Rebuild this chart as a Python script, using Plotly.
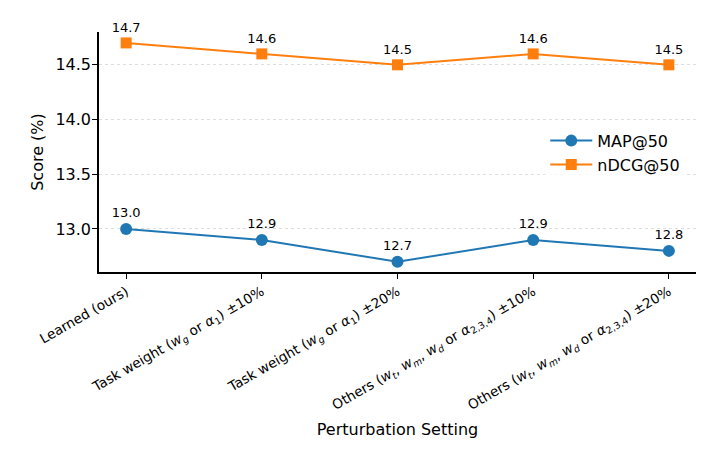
import plotly.graph_objects as go

categories = [
    "Learned (ours)",
    "Task weight (<i>w<sub>g</sub></i> or <i>α</i><sub>1</sub>) ±10%",
    "Task weight (<i>w<sub>g</sub></i> or <i>α</i><sub>1</sub>) ±20%",
    "Others (<i>w<sub>t</sub></i>, <i>w<sub>m</sub></i>, <i>w<sub>d</sub></i> or <i>α</i><sub>2,3,4</sub>) ±10%",
    "Others (<i>w<sub>t</sub></i>, <i>w<sub>m</sub></i>, <i>w<sub>d</sub></i> or <i>α</i><sub>2,3,4</sub>) ±20%",
]
map50 = [13.0, 12.9, 12.7, 12.9, 12.8]
ndcg50 = [14.7, 14.6, 14.5, 14.6, 14.5]
ytick_vals = [13.0, 13.5, 14.0, 14.5]

x_idx = list(range(len(categories)))
font = "DejaVu Sans"

fig = go.Figure()
fig.add_trace(go.Scatter(
    x=x_idx, y=map50, name="MAP@50", mode="lines+markers+text",
    line=dict(color="#1f77b4", width=2),
    marker=dict(symbol="circle", size=12, color="#1f77b4"),
    text=[f"{v:.1f}" for v in map50], textposition="top center",
    textfont=dict(size=13, color="black", family=font), cliponaxis=False,
))
fig.add_trace(go.Scatter(
    x=x_idx, y=ndcg50, name="nDCG@50", mode="lines+markers+text",
    line=dict(color="#ff7f0e", width=2),
    marker=dict(symbol="square", size=11, color="#ff7f0e"),
    text=[f"{v:.1f}" for v in ndcg50], textposition="top center",
    textfont=dict(size=13, color="black", family=font), cliponaxis=False,
))

fig.update_layout(
    width=714, height=476,
    margin=dict(l=91, r=26, t=24, b=212),
    plot_bgcolor="white", paper_bgcolor="white",
    font=dict(family=font, color="black"),
    showlegend=True,
    legend=dict(x=0.982, y=0.497, xanchor="right", yanchor="middle",
                bgcolor="rgba(255,255,255,0.8)", font=dict(size=16, family=font),
                itemwidth=42),
)
fig.update_xaxes(
    range=[-0.2, 4.2], tickmode="array", tickvals=x_idx, ticktext=categories,
    tickangle=-30, tickfont=dict(size=13.6, family=font), automargin=False,
    showline=True, linecolor="black", linewidth=1.5,
    ticks="outside", ticklen=5, tickcolor="black", showgrid=False, zeroline=False,
    title=dict(text="Perturbation Setting", font=dict(size=16, family=font), standoff=10),
)
fig.update_yaxes(
    range=[12.607, 14.80], tickmode="array", tickvals=ytick_vals,
    ticktext=[f"{v:.1f}" for v in ytick_vals],
    tickfont=dict(size=16, family=font), automargin=False, ticklabelstandoff=-2,
    showline=True, linecolor="black", linewidth=1.5,
    ticks="outside", ticklen=5, tickcolor="black",
    showgrid=True, gridcolor="#dddddd", griddash="dot", gridwidth=1, zeroline=False,
    title=dict(text="Score (%)", font=dict(size=16, family=font), standoff=8),
)

fig.write_html("out.html")
